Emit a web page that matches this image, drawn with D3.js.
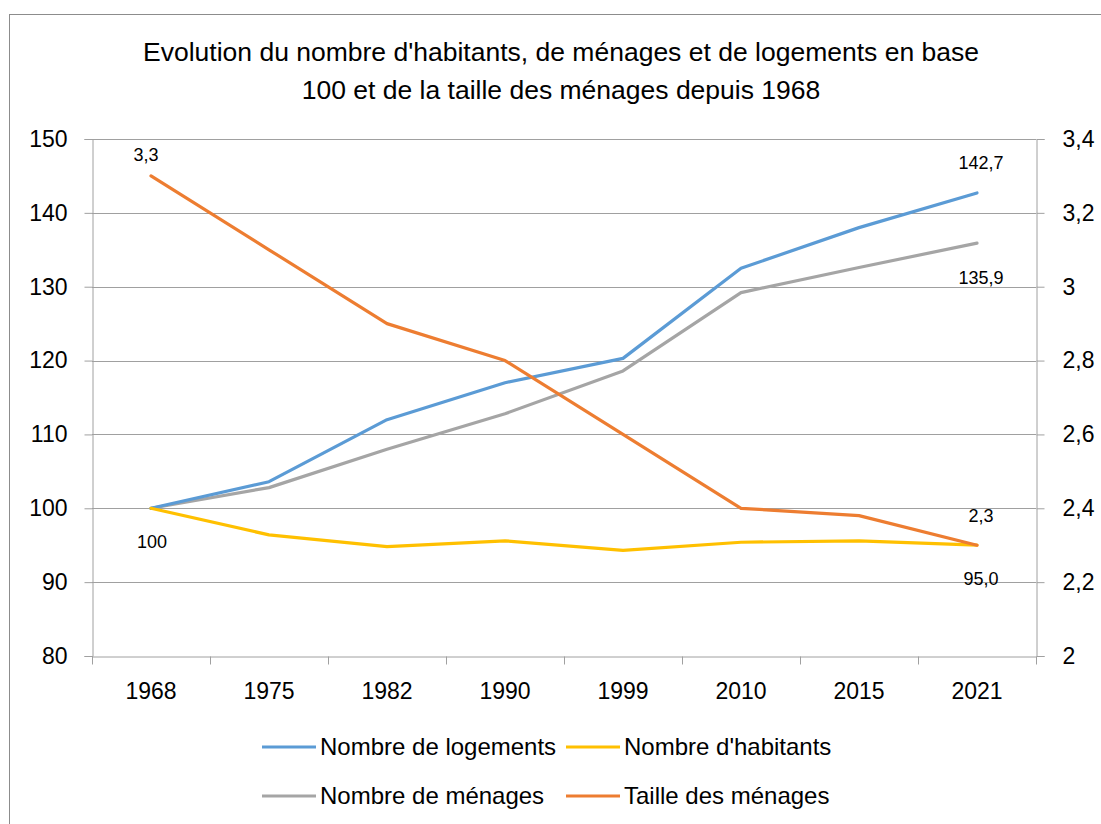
<!DOCTYPE html>
<html>
<head>
<meta charset="utf-8">
<script src="https://cdn.jsdelivr.net/npm/d3@7"></script>
<style>
  body { margin: 0; background: #fff; }
  text { font-family: "Liberation Sans", Arial, sans-serif; fill: #000; }
</style>
</head>
<body>
<div id="chart"></div>
<script>
// données
var years = ["1968", "1975", "1982", "1990", "1999", "2010", "2015", "2021"];
var logements = [100, 103.6, 112.0, 117.0, 120.3, 132.5, 138.0, 142.7];
var habitants = [100, 96.4, 94.8, 95.6, 94.3, 95.4, 95.6, 95.0];
var menages = [100, 102.8, 108.0, 112.8, 118.6, 129.2, 132.6, 135.9];
var taille = [3.3, 3.1, 2.9, 2.8, 2.6, 2.4, 2.38, 2.3];
var leftTicks = [80, 90, 100, 110, 120, 130, 140, 150];
var rightTicks = [2, 2.2, 2.4, 2.6, 2.8, 3, 3.2, 3.4];
var seriesNames = ["Nombre de logements", "Nombre d'habitants", "Nombre de ménages", "Taille des ménages"];
var titleLines = ["Evolution du nombre d'habitants, de ménages et de logements en base",
                  "100 et de la taille des ménages depuis 1968"];

var width = 1101, height = 824;
var plotLeft = 92, plotRight = 1036, plotTop = 139, plotBottom = 656;
var colors = ["#5B9BD5", "#FFC000", "#A5A5A5", "#ED7D31"];
var fmt = function(v) { return String(v).replace(".", ","); };

var svg = d3.select("#chart").append("svg")
    .attr("width", width)
    .attr("height", height);

// cadre
svg.append("rect")
    .attr("x", 9.5).attr("y", 14.5)
    .attr("width", width + 10).attr("height", height + 10)
    .attr("fill", "none").attr("stroke", "#8c8c8c").attr("stroke-width", 1);

// titre
svg.selectAll(".title").data(titleLines).enter().append("text")
    .attr("class", "title")
    .attr("x", 561)
    .attr("y", function(d, i) { return 61 + i * 38; })
    .attr("text-anchor", "middle")
    .style("font-size", "26.5px")
    .text(function(d) { return d; });

var x = d3.scaleBand().domain(years).range([plotLeft, plotRight]).padding(0);
var cx = function(d) { return x(d) + x.bandwidth() / 2; };
var y = d3.scaleLinear().domain([80, 150]).range([plotBottom, plotTop]);
var y2 = d3.scaleLinear().domain([2, 3.4]).range([plotBottom, plotTop]);

// grille
svg.append("g").selectAll("line").data(leftTicks.slice(1)).enter().append("line")
    .attr("x1", plotLeft).attr("x2", plotRight)
    .attr("y1", function(d) { return Math.round(y(d)) + 0.5; })
    .attr("y2", function(d) { return Math.round(y(d)) + 0.5; })
    .attr("stroke", "#a0a0a0").attr("stroke-width", 1);

// axe gauche
var yAxis = svg.append("g")
    .attr("transform", "translate(" + (plotLeft + 0.5) + ",0)")
    .call(d3.axisLeft(y).tickValues(leftTicks).tickSize(8).tickPadding(17).tickFormat(d3.format("d")));
yAxis.selectAll("text").style("font-size", "23px");

// axe droit
var y2Axis = svg.append("g")
    .attr("transform", "translate(" + (plotRight + 0.5) + ",0)")
    .call(d3.axisRight(y2).tickValues(rightTicks).tickSize(8).tickPadding(18).tickFormat(fmt));
y2Axis.selectAll("text").style("font-size", "23px");

// axe du bas
var xAxis = svg.append("g")
    .attr("transform", "translate(0," + (plotBottom + 0.5) + ")")
    .call(d3.axisBottom(x).tickSize(0).tickPadding(26));
xAxis.selectAll("text").style("font-size", "23px");
xAxis.selectAll(".tick line").remove();
xAxis.selectAll(".bnd").data(years.concat([null])).enter().append("line")
    .attr("class", "bnd")
    .attr("x1", function(d) { return d ? Math.round(x(d)) + 0.5 : plotRight + 0.5; })
    .attr("x2", function(d) { return d ? Math.round(x(d)) + 0.5 : plotRight + 0.5; })
    .attr("y1", 0).attr("y2", 8)
    .attr("stroke", "#a0a0a0");

svg.selectAll(".domain, .tick line").attr("stroke", "#a0a0a0");

// courbes
var lineL = d3.line().x(function(d, i) { return cx(years[i]); }).y(function(d) { return y(d); });
var lineR = d3.line().x(function(d, i) { return cx(years[i]); }).y(function(d) { return y2(d); });

var drawOrder = [[menages, lineL, 2], [logements, lineL, 0], [habitants, lineL, 1], [taille, lineR, 3]];
drawOrder.forEach(function(s) {
    svg.append("path")
        .datum(s[0])
        .attr("d", s[1])
        .attr("fill", "none")
        .attr("stroke", colors[s[2]])
        .attr("stroke-width", 3.2)
        .attr("stroke-linejoin", "round")
        .attr("stroke-linecap", "round");
});

// étiquettes de données
var last = years.length - 1;
var labels = [
    { t: fmt(taille[0]), x: cx(years[0]) - 5, y: y2(taille[0]) - 15 },
    { t: "100", x: cx(years[0]) + 1, y: y(logements[0]) + 40 },
    { t: fmt(logements[last]), x: cx(years[last]) + 4, y: y(logements[last]) - 24 },
    { t: fmt(menages[last]), x: cx(years[last]) + 4, y: y(menages[last]) + 41 },
    { t: fmt(taille[last]), x: cx(years[last]) + 4, y: y2(taille[last]) - 23 },
    { t: habitants[last].toFixed(1).replace(".", ","), x: cx(years[last]) + 4, y: y(habitants[last]) + 40 }
];
svg.selectAll(".lbl").data(labels).enter().append("text")
    .attr("class", "lbl")
    .attr("x", function(d) { return d.x; })
    .attr("y", function(d) { return d.y; })
    .attr("text-anchor", "middle")
    .style("font-size", "18px")
    .text(function(d) { return d.t; });

// légende
var legend = [
    { name: seriesNames[0], c: colors[0], x: 262, y: 747 },
    { name: seriesNames[1], c: colors[1], x: 566, y: 747 },
    { name: seriesNames[2], c: colors[2], x: 262, y: 796 },
    { name: seriesNames[3], c: colors[3], x: 566, y: 796 }
];
var lg = svg.selectAll(".leg").data(legend).enter().append("g").attr("class", "leg");
lg.append("line")
    .attr("x1", function(d) { return d.x; })
    .attr("x2", function(d) { return d.x + 54; })
    .attr("y1", function(d) { return d.y; })
    .attr("y2", function(d) { return d.y; })
    .attr("stroke", function(d) { return d.c; })
    .attr("stroke-width", 3.2);
lg.append("text")
    .attr("x", function(d) { return d.x + 58; })
    .attr("y", function(d) { return d.y + 8; })
    .style("font-size", "24px")
    .text(function(d) { return d.name; });
</script>
</body>
</html>
